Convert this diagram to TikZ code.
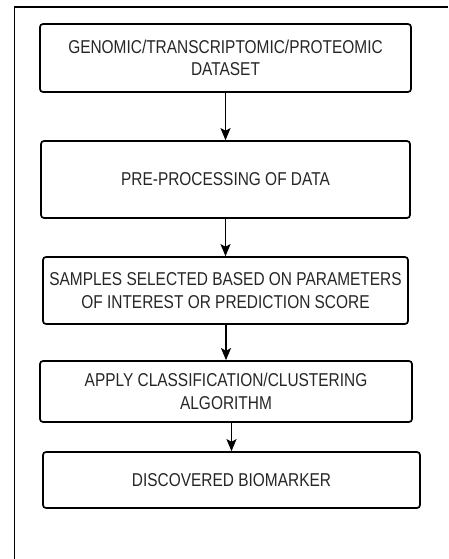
\documentclass[tikz,border=0pt]{standalone}
\usepackage{fontspec}
\setmainfont{Liberation Sans}
\newfontfamily\stagefont[FakeStretch=0.83]{Liberation Sans}
\usepackage{tikz}
\usetikzlibrary{calc,positioning,arrows,arrows.meta}

\begin{document}
\begin{tikzpicture}[x=1pt,y=-1pt]
\tikzstyle{stage}=[draw, line width=1.7pt, rounded corners=3pt, align=center, inner sep=0pt, text=black!85, font=\stagefont\fontsize{18.6}{22.5}\selectfont]
\tikzstyle{flow}=[line width=1.1pt, -{Stealth[length=12pt,width=10pt,inset=2.5pt]}]
\useasboundingbox (0,0) rectangle (448,559);
% outer frame
\draw[line width=1.4pt] (14.5,559) -- (14.5,7) -- (448,7);
\node[stage, minimum width=371pt, minimum height=68pt] (A) at (225.5,58) {GENOMIC/TRANSCRIPTOMIC/PROTEOMIC\\DATASET};
\node[stage, minimum width=369pt, minimum height=77pt] (B) at (225.5,179.5) {PRE-PROCESSING OF DATA};
\node[stage, minimum width=365pt, minimum height=67pt] (C) at (225.5,290.5) {SAMPLES SELECTED BASED ON PARAMETERS\\OF INTEREST OR PREDICTION SCORE};
\node[stage, minimum width=372pt, minimum height=61pt] (D) at (226,391.5) {APPLY CLASSIFICATION/CLUSTERING\\ALGORITHM};
\node[stage, minimum width=377pt, minimum height=56pt] (E) at (231.5,480) {DISCOVERED BIOMARKER};
\foreach \i/\j in {A/B,B/C,C/D,D/E}{\draw[flow] (\j.north |- \i.south) -- (\j.north);}
\end{tikzpicture}
\end{document}
